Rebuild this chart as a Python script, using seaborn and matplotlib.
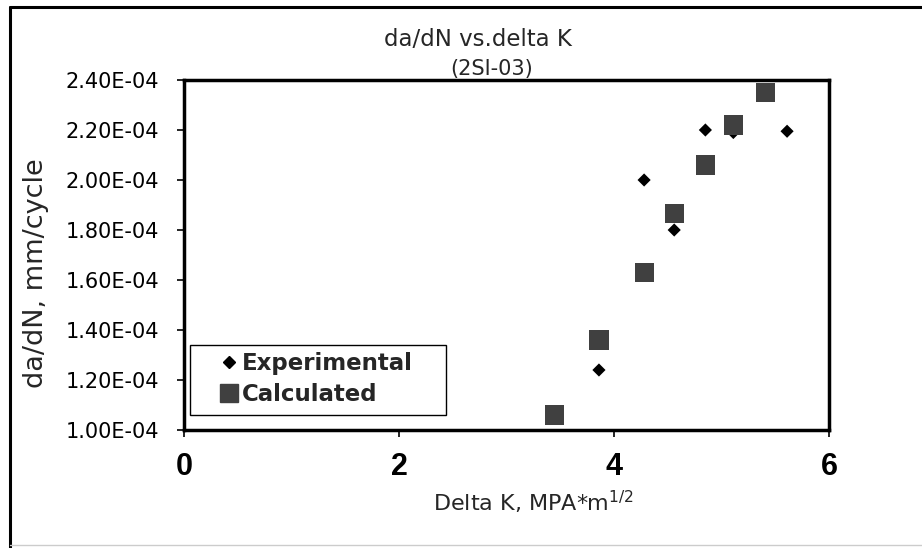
import pandas as pd
import matplotlib.pyplot as plt
import seaborn as sns
from matplotlib.lines import Line2D
from matplotlib.patches import Rectangle

# data
delta_k_exp = [3.86, 4.28, 4.56, 4.85, 5.11, 5.61]
dadn_exp = [1.24e-4, 2.00e-4, 1.80e-4, 2.20e-4, 2.19e-4, 2.195e-4]
delta_k_calc = [3.45, 3.86, 4.28, 4.56, 4.85, 5.11, 5.41]
dadn_calc = [1.06e-4, 1.36e-4, 1.63e-4, 1.865e-4, 2.06e-4, 2.22e-4, 2.35e-4]
series_names = ['Experimental', 'Calculated']
x_ticks = [0, 2, 4, 6]
y_ticks = [1.0e-4, 1.2e-4, 1.4e-4, 1.6e-4, 1.8e-4, 2.0e-4, 2.2e-4, 2.4e-4]
y_tick_labels = ['1.00E-04', '1.20E-04', '1.40E-04', '1.60E-04',
                 '1.80E-04', '2.00E-04', '2.20E-04', '2.40E-04']

data = pd.DataFrame({
    'dK': delta_k_exp + delta_k_calc,
    'dadn': dadn_exp + dadn_calc,
    'series': [series_names[0]] * len(delta_k_exp) + [series_names[1]] * len(delta_k_calc),
})

sns.set_style('white')
plt.rcParams['font.family'] = ['DejaVu Sans']
plt.rcParams['mathtext.default'] = 'regular'

fig = plt.figure(figsize=(9.22, 5.48), dpi=100)
ax = fig.add_axes([184 / 922, 1 - 430 / 548, (829 - 184) / 922, (430 - 80) / 548])

exp = data[data['series'] == 'Experimental']
calc = data[data['series'] == 'Calculated']
sns.scatterplot(x='dK', y='dadn', data=exp, marker='D', s=45, color='black',
                edgecolor='none', ax=ax, zorder=3)
sns.scatterplot(x='dK', y='dadn', data=calc, marker='s', s=190, color='#404040',
                edgecolor='none', ax=ax, zorder=4)

ax.set_xlim(0, 6)
ax.set_ylim(1.0e-4, 2.4e-4)
ax.set_xticks(x_ticks)
ax.set_xticklabels([str(t) for t in x_ticks], fontsize=22, fontweight='bold',
                   family='Liberation Sans')
ax.set_yticks(y_ticks)
ax.set_yticklabels(y_tick_labels, fontsize=15)
ax.set_xlabel('')
ax.set_ylabel('')
ax.tick_params(axis='x', direction='out', length=5, width=1.2, pad=11, colors='black')
ax.tick_params(axis='y', direction='out', length=5, width=1.2, pad=13, colors='black')
ax.tick_params(bottom=True, left=True)
for sp in ax.spines.values():
    sp.set_linewidth(2.5)
    sp.set_color('black')

# legend: entries without frame, frame drawn as the Excel-style box
handles = [
    Line2D([], [], marker='D', linestyle='none', color='black', markersize=6.5),
    Line2D([], [], marker='s', linestyle='none', color='#404040', markersize=12.5),
]
leg = ax.legend(handles, series_names, loc='center left',
                bbox_to_anchor=((220 - 184) / 645, (430 - 379) / 350),
                prop={'weight': 'bold', 'size': 16.5}, frameon=False,
                handlelength=0.8, handletextpad=0.15,
                borderpad=0, labelspacing=0.38, borderaxespad=0)
ax.add_patch(Rectangle(((190 - 184) / 645, (430 - 415) / 350), (446 - 190) / 645,
                       (415 - 345) / 350, transform=ax.transAxes, fill=False,
                       edgecolor='black', linewidth=1.0, zorder=5))

fig.text(478 / 922, 1 - 40 / 548, 'da/dN vs.delta K', ha='center', va='center', fontsize=16.5)
fig.text(492 / 922, 1 - 69 / 548, '(2SI-03)', ha='center', va='center', fontsize=15)
fig.text(533 / 922, 1 - 502 / 548, 'Delta K, MPA*m$^{1/2}$', ha='center', va='center',
         fontsize=16)
fig.text(36 / 922, 1 - 273 / 548, 'da/dN, mm/cycle', ha='center', va='center',
         rotation=90, fontsize=19.5)

# outer chart area border (left and top edges visible)
fig.add_artist(Line2D([10 / 922, 10 / 922], [0, 1 - 7 / 548], color='black', linewidth=2.2,
                      transform=fig.transFigure))
fig.add_artist(Line2D([10 / 922, 1], [1 - 7 / 548, 1 - 7 / 548], color='black', linewidth=2.2,
                      transform=fig.transFigure))
fig.add_artist(Line2D([10 / 922, 1], [3 / 548, 3 / 548], color='#cccccc', linewidth=1,
                      transform=fig.transFigure))

fig.savefig('out.png', dpi=100)
